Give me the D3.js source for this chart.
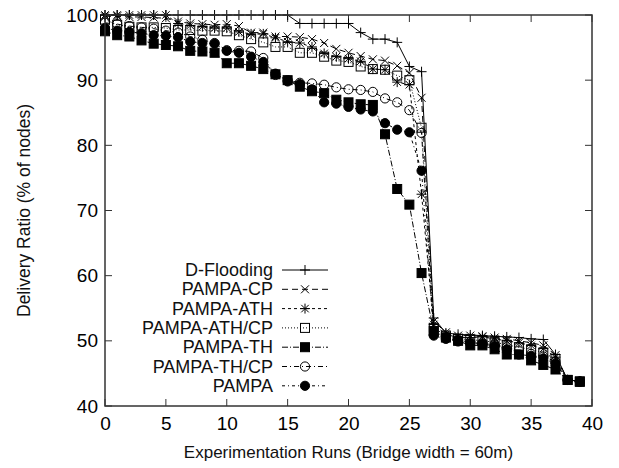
<!DOCTYPE html>
<html>
<head>
<meta charset="utf-8">
<script src="https://cdn.jsdelivr.net/npm/d3@7"></script>
<style>
  body { margin: 0; background: #fff; }
  svg { display: block; font-family: "Liberation Sans", Arial, sans-serif; }
</style>
</head>
<body>
<div id="chartContainer"></div>
<script>
// experiment runs 0..39
var runs = d3.range(0, 40)

var dFlooding = [100,100,100,100,100,100,100,100,100,100,100,100,100,100,100,100,
  98.7,98.7,98.7,98.7,98.7,97.3,96.3,96.3,95.8,92.1,91.3,53.5,
  51.2,51.0,50.9,50.8,50.7,50.6,50.5,50.3,50.2,47.9,44.0,43.8]
var pampaCP = [99.8,99.8,99.7,99.7,99.6,99.5,99.0,98.7,98.6,98.5,98.6,98.3,97.3,97.3,96.7,96.7,
  96.6,96.3,95.7,94.8,94.2,93.7,93.2,93.0,92.2,91.1,87.3,53.0,
  51.3,50.8,50.8,50.7,50.5,50.3,50.0,49.7,49.3,47.8,44.0,43.8]
var pampaATH = [100,100,100,100,100,100,98.7,98.4,98.2,98.0,98.0,97.4,97.1,97.1,96.5,95.9,
  95.7,95.1,94.1,93.6,93.3,92.9,91.7,91.6,89.7,89.3,72.5,52.5,
  51.0,50.5,50.5,50.6,50.3,50.0,49.7,49.3,48.8,47.5,44.0,43.8]
var pampaATHCP = [99.3,98.5,98.2,98.1,98.1,98.0,97.7,97.7,97.6,97.6,97.5,96.9,96.3,95.8,95.1,95.1,
  94.2,94.2,93.6,93.0,92.8,92.1,91.7,91.6,90.7,90.0,82.7,52.0,
  50.8,50.3,50.2,50.0,49.8,49.4,49.0,48.7,48.2,47.2,44.0,43.8]
var pampaTH = [97.5,96.9,96.7,96.1,95.6,95.4,95.2,94.5,94.4,94.2,92.6,92.6,92.2,91.7,90.9,90.0,
  89.0,88.3,88.0,87.0,86.6,86.3,86.2,81.7,73.3,70.9,60.4,51.5,
  50.5,50.0,49.3,49.3,48.7,47.9,47.9,47.0,46.3,45.6,44.0,43.7]
var pampaTHCP = [98.8,98.6,98.3,98.1,97.9,97.6,97.3,96.7,96.2,95.7,94.6,94.5,94.4,93.4,90.8,90.0,
  89.6,89.5,89.3,88.9,88.6,88.5,88.2,87.2,86.6,85.4,81.9,51.0,
  50.5,50.1,49.8,49.6,49.4,49.0,48.5,48.0,47.6,46.8,44.0,43.8]
var pampa = [98.0,97.6,97.4,97.2,96.9,96.8,96.6,95.9,95.7,95.6,94.5,94.2,93.6,92.8,91.0,89.8,
  89.4,88.6,86.6,86.4,85.9,85.5,85.2,83.4,82.4,82.0,76.1,50.8,
  50.3,49.9,49.6,49.5,49.2,48.7,47.9,47.7,47.3,46.5,44.0,43.7]

var seriesNames = ['D-Flooding', 'PAMPA-CP', 'PAMPA-ATH', 'PAMPA-ATH/CP', 'PAMPA-TH', 'PAMPA-TH/CP', 'PAMPA']
var seriesValues = [dFlooding, pampaCP, pampaATH, pampaATHCP, pampaTH, pampaTHCP, pampa]

var xTicks = [0, 5, 10, 15, 20, 25, 30, 35, 40]
var yTicks = [40, 50, 60, 70, 80, 90, 100]

// gnuplot-ish styles
var dashes = [null, '6,4', '3,3', '1,2', '6,2,1,2', '5,3,1,3', '3,3,1,3']
var markers = ['plus', 'cross', 'star', 'boxOpen', 'boxFilled', 'circleOpen', 'circleFilled']

function markerPath(type, s) {
    var p = d3.path()
    if (type == 'plus' || type == 'star') {
        p.moveTo(-s, 0); p.lineTo(s, 0)
        p.moveTo(0, -s); p.lineTo(0, s)
    }
    if (type == 'cross' || type == 'star') {
        var k = type == 'star' ? s * 0.75 : s * 0.8
        p.moveTo(-k, -k); p.lineTo(k, k)
        p.moveTo(-k, k); p.lineTo(k, -k)
    }
    return p.toString()
}

function drawMarker(g, type, x, y) {
    if (type == 'boxOpen' || type == 'boxFilled') {
        g.append('rect')
         .attr('x', x - 4.5).attr('y', y - 4.5)
         .attr('width', 9).attr('height', 9)
         .attr('fill', type == 'boxFilled' ? '#000' : 'none')
         .attr('stroke', '#000').attr('stroke-width', 1)
    } else if (type == 'circleOpen' || type == 'circleFilled') {
        g.append('circle')
         .attr('cx', x).attr('cy', y).attr('r', 4.6)
         .attr('fill', type == 'circleFilled' ? '#000' : 'none')
         .attr('stroke', '#000').attr('stroke-width', 1)
    } else {
        g.append('path')
         .attr('transform', 'translate(' + x + ',' + y + ')')
         .attr('d', markerPath(type, 5))
         .attr('stroke', '#000').attr('stroke-width', 1).attr('fill', 'none')
    }
}

function renderChart() {
    var width = 619, height = 468
    var margin = {left: 105, right: 27, top: 15, bottom: 62}

    var svg = d3.select('#chartContainer').append('svg')
        .attr('width', width).attr('height', height)

    var xScale = d3.scaleLinear().domain([0, 40]).range([margin.left, width - margin.right])
    var yScale = d3.scaleLinear().domain([40, 100]).range([height - margin.bottom, margin.top])

    var x0 = xScale.range()[0], x1 = xScale.range()[1]
    var y0 = yScale.range()[0], y1 = yScale.range()[1]

    // inward ticks, mirrored
    var tickG = svg.append('g').attr('stroke', '#333').attr('stroke-width', 1)
    xTicks.forEach(function(t) {
        tickG.append('line').attr('x1', xScale(t)).attr('x2', xScale(t)).attr('y1', y0).attr('y2', y0 - 7)
        tickG.append('line').attr('x1', xScale(t)).attr('x2', xScale(t)).attr('y1', y1).attr('y2', y1 + 7)
    })
    yTicks.forEach(function(t) {
        tickG.append('line').attr('y1', yScale(t)).attr('y2', yScale(t)).attr('x1', x0).attr('x2', x0 + 7)
        tickG.append('line').attr('y1', yScale(t)).attr('y2', yScale(t)).attr('x1', x1).attr('x2', x1 - 7)
    })

    var xAxis = d3.axisBottom(xScale).tickValues(xTicks).tickSize(0).tickPadding(11)
    svg.append('g').attr('transform', 'translate(0,' + y0 + ')').call(xAxis)
       .call(function(g) { g.select('.domain').remove() })
       .selectAll('text').attr('font-size', 19).attr('fill', '#000')
       .attr('font-family', '"Liberation Sans", Arial, sans-serif')

    var yAxis = d3.axisLeft(yScale).tickValues(yTicks).tickSize(0).tickPadding(7)
    svg.append('g').attr('transform', 'translate(' + x0 + ',0)').call(yAxis)
       .call(function(g) { g.select('.domain').remove() })
       .selectAll('text').attr('font-size', 19).attr('fill', '#000')
       .attr('font-family', '"Liberation Sans", Arial, sans-serif')

    svg.append('text')
       .attr('x', (x0 + x1) / 2).attr('y', 458)
       .attr('text-anchor', 'middle').attr('font-size', 17).attr('fill', '#111')
       .text('Experimentation Runs (Bridge width = 60m)')

    svg.append('text')
       .attr('transform', 'translate(30,' + ((y0 + y1) / 2) + ') rotate(-90)')
       .attr('text-anchor', 'middle').attr('font-size', 17.5).attr('fill', '#111')
       .text('Delivery Ratio (% of nodes)')

    // series
    var line = d3.line()
        .x(function(d) { return xScale(d.run) })
        .y(function(d) { return yScale(d.value) })

    seriesValues.forEach(function(vals, i) {
        var pts = runs.map(function(r, j) { return {run: r, value: vals[j]} })
        svg.append('path')
           .datum(pts)
           .attr('d', line)
           .attr('fill', 'none').attr('stroke', '#000').attr('stroke-width', 1)
           .attr('stroke-dasharray', dashes[i])
        var mg = svg.append('g')
        pts.forEach(function(p) {
            drawMarker(mg, markers[i], xScale(p.run), yScale(p.value))
        })
    })

    // legend
    var lg = svg.append('g')
    seriesNames.forEach(function(name, i) {
        lg.append('text').attr('x', 273).attr('y', 270 + i * 19.3 + 6)
          .attr('text-anchor', 'end').attr('font-size', 18).attr('fill', '#111').text(name)
        lg.append('line').attr('x1', 282).attr('x2', 328).attr('y1', 270 + i * 19.3).attr('y2', 270 + i * 19.3)
          .attr('stroke', '#000').attr('stroke-width', 1).attr('stroke-dasharray', dashes[i])
        drawMarker(lg, markers[i], 305, 270 + i * 19.3)
    })

    // frame
    svg.append('rect')
       .attr('x', x0).attr('y', y1).attr('width', x1 - x0).attr('height', y0 - y1)
       .attr('fill', 'none').attr('stroke', '#333').attr('stroke-width', 1.5)
}

renderChart()
</script>
</body>
</html>
